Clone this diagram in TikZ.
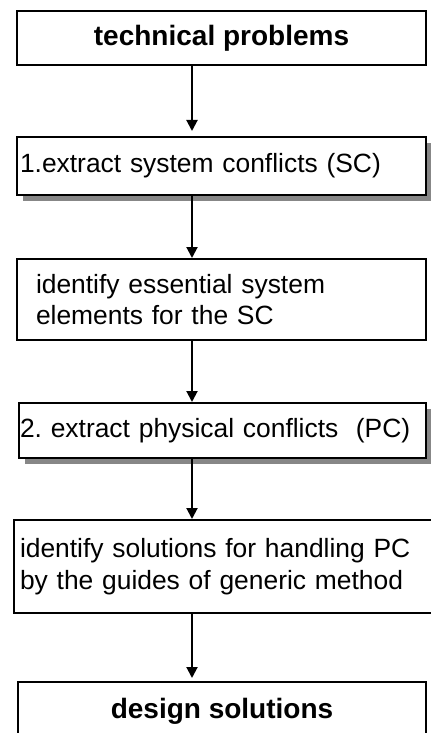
\documentclass[tikz,border=0pt]{standalone}
\usepackage{fontspec}
\setmainfont{Liberation Sans}
\usetikzlibrary{arrows.meta,shadows}
\frenchspacing
\begin{document}
\begin{tikzpicture}[x=0.5pt,y=-0.5pt]
\colorlet{shadowgray}{black!47}
\tikzset{stage/.style={draw,line width=1pt,fill=white,anchor=north west,inner ysep=0pt,
                       font=\fontsize{13.2}{15.84}\selectfont},
         headline/.style={font=\fontsize{14}{16.8}\selectfont\bfseries},
         shaded/.style={drop shadow={shadow xshift=2.75pt,shadow yshift=-2.75pt,
                        fill=shadowgray,opacity=1}},
         flow/.style={-{Triangle[width=5.5pt,length=5.5pt]},line width=1pt}}
\useasboundingbox (0,0) rectangle (431,733);

% the six stages, top to bottom (coordinates in pixels of the page)
\node[stage,headline,minimum width=204.5pt,minimum height=27pt] (prob) at (16,10) {technical problems};
\node[stage,shaded,minimum width=204.5pt,minimum height=29pt,
      inner xsep=1.5pt,text width=201.5pt,align=left] (sc) at (16,136)
      {1.extract system conflicts (SC)};
\node[stage,minimum width=204.5pt,minimum height=40.5pt,
      inner xsep=9.5pt,text width=185.5pt,align=left] (elem) at (16,258)
      {identify essential system\\elements for the SC};
\node[stage,shaded,minimum width=203.5pt,minimum height=27.5pt,
      inner xsep=0.5pt,text width=202.5pt,align=left] (pc) at (18,402)
      {2. extract physical conflicts\ \ (PC)};
\node[stage,minimum width=213.5pt,minimum height=46.5pt,
      inner xsep=3pt,text width=207.5pt,align=left] (sol) at (13,519)
      {identify solutions for handling PC\\by the guides of generic method};
\node[stage,headline,minimum width=204pt,minimum height=29pt] (design) at (17,681) {design solutions};

% the arrows all run down one vertical line
\coordinate (axis) at (192,0);
\foreach \a/\b/\gap in {prob/sc/2.5pt, sc/elem/0pt, elem/pc/0pt, pc/sol/0pt, sol/design/1.5pt}
{
    \draw[flow,shorten >=\gap] (\a.south -| axis) -- (\b.north -| axis);
}
\end{tikzpicture}
\end{document}
